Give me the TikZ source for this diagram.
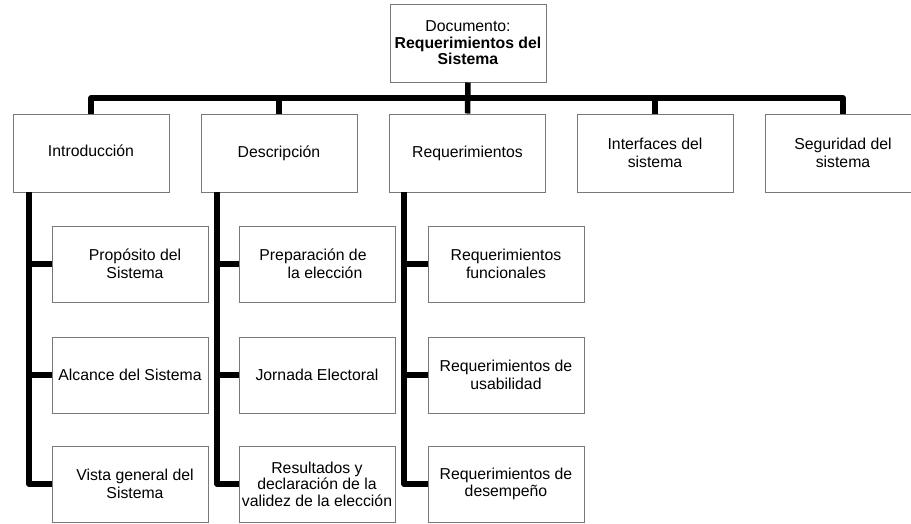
\documentclass[tikz,border=0pt]{standalone}
\usepackage{fontspec}
\setmainfont{Liberation Sans}
\definecolor{boxgray}{RGB}{120,120,120}
\begin{document}
\begin{tikzpicture}[x=1pt,y=-1pt,
  box/.style={draw=boxgray, line width=1pt, minimum width=156pt, minimum height=76pt,
    inner sep=0pt, align=center, font=\fontsize{15.8}{17.5}\selectfont},
  topbox/.style={box, minimum height=78pt},
  conn/.style={line width=5.5pt, line join=round}]
\useasboundingbox (0,0) rectangle (911,523);
\clip (0,0) rectangle (911,523);
\fill[white] (0,0) rectangle (911,523);

% top
\node[topbox, font=\fontsize{15.8}{16.5}\selectfont] (top) at (468,43) {Documento:\\\textbf{Requerimientos del}\\\textbf{Sistema}};

% level 1
\node[topbox] (intro) at (91,153) {\raisebox{4pt}{Introducción}};
\node[topbox] (desc) at (279,153) {\raisebox{2pt}{Descripción}};
\node[topbox] (req) at (467.5,153) {\raisebox{2pt}{Requerimientos}};
\node[topbox] (inter) at (655,153) {Interfaces del\\sistema};
\node[topbox] (seg) at (843,153) {Seguridad del\\sistema};

% level 2 - introduccion
\node[box] (ic1) at (130,264) {\hspace*{10pt}Propósito del\\\hspace*{10pt}Sistema};
\node[box] (ic2) at (130,375) {Alcance del Sistema};
\node[box] (ic3) at (130,484) {\hspace*{10pt}Vista general del\\\hspace*{10pt}Sistema};

% level 2 - descripcion
\node[box] (dc1) at (317,264) {Preparación de\hspace*{8pt}\\\hspace*{16pt}la elección};
\node[box] (dc2) at (317,375) {Jornada Electoral};
\node[box, font=\fontsize{15.8}{16.5}\selectfont] (dc3) at (317,484) {Resultados y\\declaración de la\\validez de la elección};

% level 2 - requerimientos
\node[box] (rc1) at (506,264) {Requerimientos\\funcionales};
\node[box] (rc2) at (506,375) {Requerimientos de\\usabilidad};
\node[box] (rc3) at (506,484) {Requerimientos de\\desempeño};

% connectors level 1
\coordinate (bar) at (467.5,98);
\draw[conn] (top.south) -- (req.north);
\draw[conn] (intro.north) |- (bar) -| (seg.north);
\draw[conn] (desc.north) -- (desc.north |- bar);
\draw[conn] (inter.north) -- (inter.north |- bar);

% connectors level 2
\coordinate (si) at (29,192);
\coordinate (sd) at (217,192);
\coordinate (sr) at (404,192);
\draw[conn] (si) |- (ic3.west);
\draw[conn] (ic1.west) -- (ic1.west -| si);
\draw[conn] (ic2.west) -- (ic2.west -| si);
\draw[conn] (sd) |- (dc3.west);
\draw[conn] (dc1.west) -- (dc1.west -| sd);
\draw[conn] (dc2.west) -- (dc2.west -| sd);
\draw[conn] (sr) |- (rc3.west);
\draw[conn] (rc1.west) -- (rc1.west -| sr);
\draw[conn] (rc2.west) -- (rc2.west -| sr);
\end{tikzpicture}
\end{document}
